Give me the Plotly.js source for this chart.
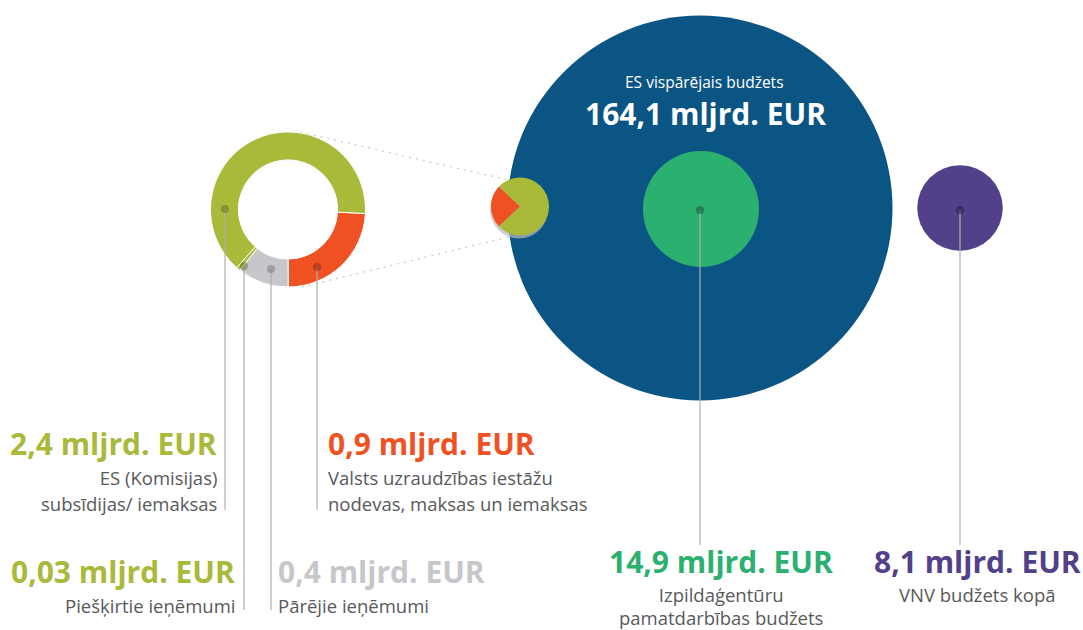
<!DOCTYPE html>
<html>
<head>
<meta charset="utf-8">
<script src="https://cdn.plot.ly/plotly-3.0.1.min.js"></script>
<style>html,body{margin:0;padding:0;background:#fff}#chart{width:1083px;height:630px}</style>
</head>
<body>
<div id="chart"></div>
<script>
// ---------- DATA ----------
// Donut: revenue sources (order as drawn clockwise starting at right side)
const donutLabels = ["Valsts uzraudzības iestāžu nodevas, maksas un iemaksas", "Pārējie ieņēmumi", "Piešķirtie ieņēmumi", "ES (Komisijas) subsīdijas/ iemaksas"];
const donutValues = [0.9, 0.4, 0.03, 2.4];

// Bubbles
const bubbleLabels = ["ES vispārējais budžets", "Izpildaģentūru pamatdarbības budžets", "VNV budžets kopā"];
const bubbleValues = [164.1, 14.9, 8.1];

// Label texts
const unit = "mljrd. EUR";
const donutLabelLines = [
  ["Valsts uzraudzības iestāžu", "nodevas, maksas un iemaksas"],
  ["Pārējie ieņēmumi"],
  ["Piešķirtie ieņēmumi"],
  ["ES (Komisijas)", "subsīdijas/ iemaksas"]
];
const bubbleLabelLines = [
  ["ES vispārējais budžets"],
  ["Izpildaģentūru", "pamatdarbības budžets"],
  ["VNV budžets kopā"]
];

// ---------- STYLE / LAYOUT CONSTANTS ----------
const W = 1083, H = 630;
const FONT = "'Open Sans', 'Noto Sans', sans-serif";
const donutColors = ["#F05123", "#C6C7CB", "#A9B93A", "#A9B93A"];
const bubbleColors = ["#0B5585", "#2BB06F", "#524188"];
const bigRadius = 192.5;             // px radius of the largest bubble
const bubbleCenters = [[700, 208], [701, 209], [960, 208]];
const donutCenter = [288, 209.5], donutDiam = 155, donutHole = 0.64;
const miniCenter = [520, 206.5];
const subColor = "#58595B";
const BIG = 30, SMALL = 18.5;
const ASC = 1.069;   // Open Sans ascent (em)

const fmt = v => String(v).replace('.', ',') + ' ' + unit;
const sizeref = bubbleValues[0] / (2 * bigRadius * bigRadius);
const totalDonut = donutValues.reduce((a, b) => a + b, 0);
const miniDiam = 2 * bigRadius * Math.sqrt(totalDonut / bubbleValues[0]);

const traces = [];
// bubbles
traces.push({
  type: 'scatter', mode: 'markers',
  x: bubbleCenters.map(c => c[0]), y: bubbleCenters.map(c => c[1]),
  text: bubbleLabels,
  marker: { size: bubbleValues, sizemode: 'area', sizeref: sizeref, color: bubbleColors, opacity: 1, line: { width: 0 } },
  hoverinfo: 'skip'
});
// shadow of the mini pie
traces.push({
  type: 'scatter', mode: 'markers',
  x: [miniCenter[0] - 1], y: [miniCenter[1] + 3],
  marker: { size: [totalDonut], sizemode: 'area', sizeref: sizeref, color: '#B9B9C0', line: { width: 0 } },
  hoverinfo: 'skip'
});
// donut
traces.push({
  type: 'pie', labels: donutLabels, values: donutValues, sort: false,
  direction: 'clockwise', rotation: 93, hole: donutHole,
  marker: { colors: donutColors, line: { color: '#ffffff', width: 1 } },
  textinfo: 'none', hoverinfo: 'skip',
  domain: {
    x: [(donutCenter[0] - donutDiam / 2) / W, (donutCenter[0] + donutDiam / 2) / W],
    y: [(H - donutCenter[1] - donutDiam / 2) / H, (H - donutCenter[1] + donutDiam / 2) / H]
  }
});
// mini pie (orange share vs rest)
const orangeShare = donutValues[0];
const restShare = totalDonut - donutValues[0];
const orangeDeg = orangeShare / totalDonut * 360;
traces.push({
  type: 'pie', labels: ['a', 'b'], values: [orangeShare, restShare], sort: false,
  direction: 'clockwise', rotation: 270 - orangeDeg / 2,
  marker: { colors: [donutColors[0], donutColors[3]], line: { width: 0 } },
  textinfo: 'none', hoverinfo: 'skip',
  domain: {
    x: [(miniCenter[0] - miniDiam / 2) / W, (miniCenter[0] + miniDiam / 2) / W],
    y: [(H - miniCenter[1] - miniDiam / 2) / H, (H - miniCenter[1] + miniDiam / 2) / H]
  }
});

// leader lines & dots: [x, yDot, yEnd, dotColor]
const leaders = [
  [225, 209, 510, 'rgba(90,100,40,0.45)'],
  [244, 266, 610, 'rgba(90,100,40,0.45)'],
  [271, 269, 610, 'rgba(80,80,90,0.35)'],
  [317, 267, 510, 'rgba(120,40,20,0.45)'],
  [700, 210, 545, 'rgba(20,90,60,0.55)'],
  [960, 210, 545, 'rgba(40,30,80,0.55)']
];
const shapes = [];
// dotted zoom lines
shapes.push({ type: 'line', x0: 300, y0: 132, x1: 513, y1: 181, line: { color: '#C8C8C8', width: 1.2, dash: '2px,5px' }, layer: 'below' });
shapes.push({ type: 'line', x0: 302, y0: 287, x1: 513, y1: 236, line: { color: '#C8C8C8', width: 1.2, dash: '2px,5px' }, layer: 'below' });
leaders.forEach(l => {
  shapes.push({ type: 'line', x0: l[0], x1: l[0], y0: l[1], y1: l[2], line: { color: 'rgba(175,175,175,0.8)', width: 1.5 }, layer: 'above' });
  shapes.push({ type: 'circle', x0: l[0] - 4, x1: l[0] + 4, y0: l[1] - 4, y1: l[1] + 4, fillcolor: l[3], line: { width: 0 }, layer: 'above' });
});

// annotations: value line + description block, positioned by value baseline
const ann = [];
function addBlock(x, baseline, anchor, value, color, lines, subBase, subTopGap) {
  ann.push({ x: x, y: baseline - ASC * BIG, xref: 'x', yref: 'y', xanchor: anchor, yanchor: 'top', showarrow: false, borderpad: 0,
    text: '<b>' + fmt(value) + '</b>', font: { family: FONT, size: BIG, color: color } });
  ann.push({ x: x, y: baseline + subTopGap, xref: 'x', yref: 'y', xanchor: anchor, yanchor: 'top', align: anchor,
    showarrow: false, borderpad: 0,
    text: lines.map(t => '<span style="font-size:' + SMALL + 'px">' + t + '</span>').join('<br>'),
    font: { family: FONT, size: subBase, color: subColor } });
}
addBlock(218, 454.5, 'right', donutValues[3], donutColors[3], donutLabelLines[3], 20, 9.5);
addBlock(327, 454.5, 'left', donutValues[0], donutColors[0], donutLabelLines[0], 20, 9.5);
addBlock(236, 582, 'right', donutValues[2], donutColors[2], donutLabelLines[2], 20, 9.5);
addBlock(277, 582, 'left', donutValues[1], donutColors[1], donutLabelLines[1], 20, 9.5);
addBlock(721, 572.3, 'center', bubbleValues[1], bubbleColors[1], bubbleLabelLines[1], 17.5, 8.8);
addBlock(977, 572.3, 'center', bubbleValues[2], bubbleColors[2], bubbleLabelLines[2], 17.5, 8.8);
// inside big bubble: subtitle + value
ann.push({ x: 704, y: 70.4, xref: 'x', yref: 'y', xanchor: 'center', yanchor: 'top', showarrow: false, borderpad: 0,
  text: bubbleLabelLines[0][0], font: { family: FONT, size: 15.5, color: '#ffffff' } });
ann.push({ x: 705, y: 123.6 - ASC * BIG, xref: 'x', yref: 'y', xanchor: 'center', yanchor: 'top', showarrow: false, borderpad: 0,
  text: '<b>' + fmt(bubbleValues[0]) + '</b>', font: { family: FONT, size: BIG, color: '#ffffff' } });

const layout = {
  width: W, height: H,
  margin: { l: 0, r: 0, t: 0, b: 0, pad: 0 },
  paper_bgcolor: '#ffffff', plot_bgcolor: '#ffffff',
  showlegend: false, hovermode: false,
  xaxis: { range: [0, W], visible: false, fixedrange: true },
  yaxis: { range: [H, 0], visible: false, fixedrange: true },
  shapes: shapes, annotations: ann
};
Plotly.newPlot('chart', traces, layout, { displayModeBar: false, staticPlot: true });
</script>
</body>
</html>
